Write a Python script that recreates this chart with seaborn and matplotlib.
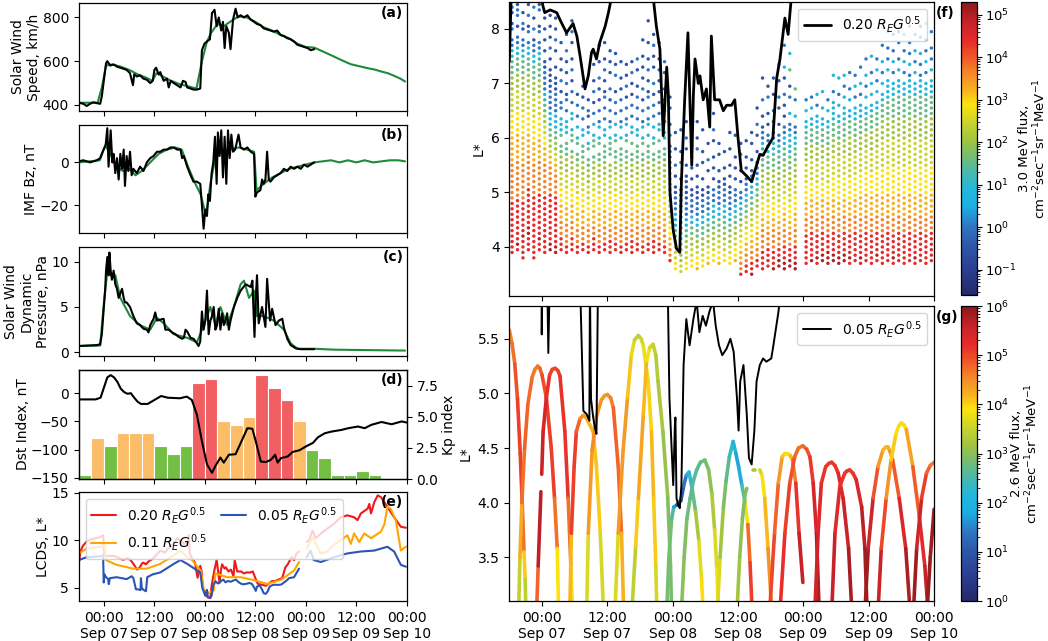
import numpy as np
import pandas as pd
import matplotlib
matplotlib.use("Agg")
import matplotlib.pyplot as plt
import matplotlib.dates as mdates
import matplotlib.cm as cm
from matplotlib.colors import LinearSegmentedColormap, LogNorm
from matplotlib.collections import LineCollection
import seaborn as sns

sns.set_style("ticks")
plt.rcParams.update({
    "font.family": ["DejaVu Sans"],
    "font.size": 10, "axes.labelsize": 10, "xtick.labelsize": 10,
    "ytick.labelsize": 10, "legend.fontsize": 10,
    "axes.edgecolor": "black", "axes.labelcolor": "black", "text.color": "black",
    "xtick.color": "black", "ytick.color": "black",
    "xtick.major.size": 3.5, "ytick.major.size": 3.5,
    "xtick.minor.size": 2, "ytick.minor.size": 2,
    "axes.linewidth": 0.9,
})

START = pd.Timestamp("2017-09-06 18:00")
END = pd.Timestamp("2017-09-10 00:00")

# ---------------- solar wind speed (km/h) ----------------
SPEED_OBS_H = [0, 1.1, 1.9, 2.7, 3.5, 4.3, 5.1, 5.5, 5.9, 6.5, 6.8, 7.5, 8.3, 9.1, 9.9, 10.7, 11.4, 12.2, 12.9, 13.2,
               13.8, 14.6, 15.4, 16.2, 17.0, 17.6, 18.0, 18.4, 19.0, 19.4, 20.2, 21.0, 21.4, 21.9, 22.6, 23.4, 24.2, 24.8, 25.4, 25.8,
               26.6, 27.3, 28.1, 28.9, 29.3, 29.9, 30.5, 31.2, 31.7, 32.3, 32.8, 33.3, 33.9, 34.3, 34.7, 35.1, 35.7, 36.1, 36.7, 37.3,
               37.8, 38.5, 39.3, 40.1, 40.9, 41.7, 42.4, 43.2, 44.0, 44.8, 45.6, 46.4, 47.2, 48.0, 48.8, 49.6, 50.4, 51.2, 52.0, 52.8,
               53.6, 54.4, 55.2, 56.0]
SPEED_OBS = [410, 405, 395, 405, 412, 408, 405, 440, 500, 590, 600, 580, 585, 575, 570, 565, 560, 545, 490, 540,
             530, 535, 520, 515, 500, 510, 560, 570, 540, 550, 510, 520, 480, 510, 500, 490, 480, 510, 505, 480,
             475, 470, 470, 475, 650, 680, 690, 700, 820, 835, 760, 800, 740, 780, 660, 760, 730, 655, 790, 840,
             800, 810, 800, 810, 790, 780, 770, 765, 750, 745, 740, 735, 740, 720, 715, 705, 700, 690, 675, 670,
             665, 660, 650, 655]
SPEED_MODEL_H = [0, 4.5, 5.5, 6.5, 8, 10, 12, 14, 16, 17.5, 18.5, 20, 22, 24, 26, 28, 29.3, 30.5, 31.5, 33,
                 34.5, 36, 38, 40, 42, 44, 46, 48, 50, 52, 54, 56, 58, 60.7, 62.7, 64.7, 66.7, 68.7, 70.3, 71.9,
                 73.5, 75.0, 76.5, 77.6]
SPEED_MODEL = [410, 410, 480, 580, 585, 575, 560, 540, 525, 510, 545, 530, 510, 495, 485, 475, 600, 690, 730, 770,
               760, 780, 805, 800, 780, 755, 740, 720, 705, 680, 665, 662, 645, 621, 603, 586, 577, 568, 562, 553,
               545, 533, 520, 507]

# ---------------- IMF Bz (nT) ----------------
BZ_OBS_H = [0, 1.1, 2.7, 4.3, 5.1, 5.7, 6.4, 6.8, 7.1, 7.6, 8.0, 8.3, 8.7, 9.1, 9.5, 9.9, 10.3, 10.7, 11.0, 11.4,
            11.8, 12.2, 12.6, 13.0, 13.8, 14.6, 15.4, 16.2, 17.0, 17.8, 18.6, 19.4, 20.2, 21.0, 21.8, 22.6, 23.4, 24.2, 24.6, 25.0,
            25.8, 26.6, 27.3, 28.1, 28.9, 29.3, 29.7, 30.1, 30.5, 30.8, 31.2, 31.6, 32.0, 32.4, 32.8, 33.1, 33.5, 33.9, 34.3, 34.7,
            35.1, 35.5, 35.9, 36.3, 36.7, 37.2, 38.0, 38.5, 39.3, 40.1, 40.9, 41.7, 42.0, 42.4, 43.2, 43.6, 44.0, 44.4, 44.8, 45.2,
            45.6, 46.4, 47.2, 48.0, 48.8, 49.6, 50.4, 51.2, 52.0, 52.8, 53.6, 54.4, 55.2, 56.0]
BZ_OBS = [0.5, 1, 0, 1, 2, 5, 8, 16, -2, 15, 0, 4, -5, 2, -8, 4, -3, 6, -11, 3,
          -4, 5, -6, -3, -5, -2, -4, 0, 2, 3, 5, 5, 6, 6, 7, 7, 6, 6, 2, 3,
          -2, -6, -9, -9, -10, -20, -31, -22, -25, -15, -18, -5, 0, 12, -10, 14, 3, 15, -7, 12,
          -10, 15, 2, 13, 5, 6, 13, 7, 6, 7, 5, 4, -16, -14, -13, -8, -10, -8, 5, -8,
          -9, -7, -6, -5, -3, -4, -2, -3, -2, -3, -1, -2, -1, 0]
BZ_MODEL_H = [0, 5, 6.3, 7.5, 9, 10.5, 12, 13.5, 15, 17, 19, 21, 23, 24.5, 26, 27.5, 29, 30.3, 31.3, 32.5,
              34, 36, 38, 40, 41.7, 42.3, 44, 46, 48, 50, 52, 54, 56, 58, 60, 62, 64, 66, 68, 70,
              72, 74, 76, 77.6]
BZ_MODEL = [0, 1, 8, 4, -2, -4, -3, -6, -4, 0, 4, 6, 7, 6, -2, -9, -15, -25, -10, 2,
            5, 6, 7, 6, 5, -13, -10, -7, -5, -3, -2, -1, 0, 0.5, 1, 0, 1, 0, 1, 0,
            0.5, 1, 1, 0.5]

# ---------------- dynamic pressure (nPa) ----------------
PDYN_OBS_H = [0, 1.9, 4.3, 5.1, 5.5, 5.9, 6.3, 6.5, 6.8, 7.1, 7.3, 7.6, 7.9, 8.3, 8.7, 9.1, 9.5, 9.9, 10.3, 10.7,
              11.0, 11.4, 12.2, 12.6, 13.0, 13.8, 14.6, 15.4, 16.2, 16.6, 17.0, 17.8, 18.2, 18.6, 19.4, 20.2, 20.6, 21.4, 22.2, 23.0,
              23.8, 24.6, 25.0, 25.4, 25.8, 26.6, 27.3, 28.1, 28.5, 28.9, 29.3, 29.7, 30.1, 30.5, 30.9, 31.3, 31.7, 32.1, 32.5, 32.9,
              33.3, 33.7, 34.1, 34.5, 34.9, 35.3, 35.7, 36.1, 36.9, 37.7, 38.5, 39.7, 40.9, 41.3, 41.8, 42.1, 42.4, 42.8, 43.6, 44.4,
              44.8, 45.5, 46.0, 46.8, 47.6, 48.4, 48.8, 49.6, 50.4, 51.6, 52.8, 54.4, 56.0]
PDYN_OBS = [0.7, 0.75, 0.8, 0.9, 2, 4.5, 7, 9, 10.5, 8.5, 11, 9, 8, 9, 7.5, 7, 6, 6.5, 7, 6,
            5.5, 5.5, 5, 4.5, 4, 3.2, 3, 2.6, 2.5, 2.2, 3, 3.7, 4.4, 3.5, 3.6, 3.7, 2.5, 2.5, 2.2, 2,
            1.7, 1.5, 1.6, 2.5, 2.3, 1.6, 1.5, 1.0, 0.7, 1.2, 4.5, 2.5, 3.5, 6.8, 2, 3.5, 4, 5, 2.5, 3,
            4.8, 2.5, 4.3, 3, 3.5, 4.3, 2.5, 3.5, 5.0, 6, 6.8, 7.5, 7.2, 7.9, 1.7, 6, 8.5, 3.2, 5.0, 2.8,
            8.1, 3.5, 4.8, 3.0, 3.5, 3.7, 2.7, 1.5, 0.8, 0.45, 0.35, 0.35, 0.35]
PDYN_MODEL_H = [0, 5.1, 5.9, 6.7, 8.7, 9.9, 12.2, 14.6, 17.0, 18.6, 20.2, 22.6, 25.8, 28.1, 28.9, 30.5, 31.3, 32.5, 33.7, 35.3,
                36.9, 38.5, 39.3, 40.5, 41.7, 42.4, 44.0, 46.4, 48.8, 50.4, 52.0, 56.0, 60.7, 68.7, 77.6]
PDYN_MODEL = [0.7, 0.75, 5, 8.5, 8.5, 6, 4, 3, 2.5, 3.8, 3.2, 2, 1.6, 1.1, 2, 4, 5, 3, 5, 3,
              5, 7.5, 7.9, 6, 6.8, 4, 4, 3.5, 2.5, 1, 0.4, 0.4, 0.3, 0.25, 0.2]

# ---------------- Dst (nT) and 3-hourly Kp ----------------
DST_H = [0, 4, 5.2, 6.0, 6.8, 7.6, 8.4, 9.2, 10.0, 10.8, 11.6, 12.4, 13.2, 14.0, 14.8, 16.4, 18.0, 19.6, 21.2, 24.1,
         25.7, 26.9, 28.1, 29.3, 30.5, 31.7, 32.5, 33.7, 34.5, 35.7, 37.3, 38.9, 40.1, 41.3, 42.1, 43.3, 44.5, 45.7, 46.7, 47.3,
         48.1, 49.7, 50.9, 52.5, 54.1, 55.7, 56.9, 58.5, 60.1, 62.5, 64.1, 66.4, 68.0, 69.6, 72.0, 74.4, 76.8, 78.0]
DST = [-11, -11, -8, 10, 28, 32, 28, 20, 8, 2, -1, 0, -8, -15, -19, -19, -12, -5, -8, -9,
       -6, -12, -38, -85, -126, -141, -129, -114, -123, -109, -108, -82, -62, -63, -85, -121, -122, -118, -109, -123,
       -115, -112, -104, -101, -94, -88, -78, -71, -68, -65, -62, -59, -62, -56, -51, -55, -50, -52]
KP_START_H = [0, 3, 6, 9, 12, 15, 18, 21, 24, 27, 30, 33, 36, 39, 42, 45, 48, 51, 54, 57, 60, 63, 66, 69]
KP = [0.33, 3.33, 2.67, 3.67, 3.67, 3.67, 2.67, 2.0, 2.67, 7.67, 8.0, 4.67,
      4.33, 5.0, 8.33, 7.33, 6.33, 4.67, 2.33, 1.67, 0.33, 0.33, 0.67, 0.33]

# ---------------- LCDS (L*) for three field-line curvature thresholds ----------------
LCDS20_H = [0.0, 0.4, 1.0, 2.0, 3.0, 4.0, 5.0, 5.8, 6.1, 6.5, 7.5, 8.7, 9.3, 10.5, 11.7, 12.4, 13.0, 13.9, 14.5, 15.1,
            15.4, 16.0, 16.6, 17.6, 18.2, 18.8, 19.5, 20.5, 21.5, 22.6, 23.4, 24.2, 25.0, 26.0, 26.2, 26.4, 27.0, 27.65, 28.26, 28.9,
            29.2, 29.5, 30.1, 30.7, 31.3, 31.6, 32.2, 32.8, 33.5, 33.8, 34.1, 34.7, 35.0, 35.6, 36.2, 36.8, 37.1, 37.7, 38.6, 39.3,
            39.9, 40.8, 41.4, 42.0, 42.6, 43.6, 44.5, 45.4, 46.0, 46.6, 47.5, 48.4, 49.1, 49.7, 50.6, 51.2, 51.8, 52.4, 53.2, 54.2,
            54.8, 55.6, 56.4, 57.6, 59.1, 60.7, 62.3, 63.9, 65.5, 66.3, 67.1, 68.7, 69.1, 69.5, 70.3, 71.1, 71.9, 73.4, 75.0, 76.6,
            77.8]
LCDS20 = [7.4, 8.8, 9.4, 9.9, 10.1, 10.2, 10.3, 10.5, 8.45, 8.3, 8.35, 8.3, 8.17, 7.93, 8.1, 7.87, 7.5, 6.9, 7.14, 7.57,
          7.63, 7.45, 7.75, 8.05, 8.3, 8.6, 8.9, 8.7, 9.2, 9.6, 10.2, 9.9, 9.6, 9.8, 10.5, 8.6, 8.05, 7.63, 6.04, 7.3,
          6.8, 5.0, 4.3, 3.97, 3.9, 5.2, 6.7, 7.93, 5.5, 6.8, 7.45, 7.0, 7.14, 6.7, 6.9, 6.2, 7.87, 6.7, 6.7, 6.5,
          6.6, 6.6, 6.7, 6.0, 5.4, 5.3, 5.2, 5.5, 5.7, 5.68, 5.85, 6.0, 7.1, 7.45, 8.2, 7.9, 8.6, 8.8, np.nan, 9.8,
          10.0, 11.0, 10.2, 10.7, 11.2, 11.7, 12.4, 12.6, 12.4, 12.1, 12.8, 13.3, 13.8, 12.8, 14.0, 14.7, 14.5, 13.5, 12.4, 11.4,
          11.3]
LCDS11_H = [0.0, 1.9, 5.1, 6.1, 6.5, 9.0, 13.0, 16.2, 19.4, 22.6, 24.2, 25.8, 27.0, 28.2, 29.0, 29.8, 30.6, 32.1, 32.5, 35.3,
            38.5, 41.6, 44.8, 48.0, 51.2, 52.4, 53.2, 54.2, 55.6, 56.4, 57.6, 59.1, 60.7, 62.3, 63.9, 64.7, 65.5, 66.7, 67.9, 69.5,
            71.9, 72.7, 73.4, 74.2, 75.4, 76.6, 77.8]
LCDS11 = [8.6, 9.1, 9.3, 9.5, 7.9, 7.4, 7.0, 7.0, 7.5, 8.4, 8.9, 8.2, 7.9, 7.2, 6.8, 4.7, 4.4, 4.7, 6.5, 6.1,
          6.1, 5.8, 5.4, 5.8, 6.8, 7.7, np.nan, 9.1, 10.3, 9.6, 8.6, 8.8, 9.5, 10.0, 10.5, 9.6, 10.7, 9.8, 10.7, 10.2,
          10.9, 11.7, 13.5, 13.3, 12.1, 8.9, 9.3]
LCDS05_H = [0.0, 1.9, 5.1, 5.8, 5.95, 6.1, 6.5, 7.0, 7.16, 7.4, 9.0, 11.4, 12.6, 13.0, 13.6, 14.2, 14.7, 14.8, 15.0, 15.4,
            15.7, 16.0, 16.3, 17.6, 19.4, 22.6, 24.2, 25.8, 28.2, 28.9, 29.4, 29.8, 30.1, 30.4, 30.5, 30.7, 31.0, 31.3, 31.6, 32.0,
            32.5, 33.1, 33.8, 34.4, 34.9, 35.5, 36.1, 36.7, 37.4, 37.9, 38.5, 39.1, 39.9, 40.6, 41.2, 41.8, 42.1, 42.4, 43.0, 43.6,
            44.0, 44.5, 45.0, 45.4, 46.0, 46.6, 47.2, 48.1, 48.4, 49.4, 50.0, 51.2, 52.4, 53.2, 54.2, 55.1, 55.9, 57.6, 60.7, 63.9,
            67.1, 70.3, 73.4, 75.0, 76.6, 77.8]
LCDS05 = [7.9, 8.2, 8.3, 8.4, 5.54, 6.4, 6.1, 5.9, 5.37, 6.0, 6.1, 5.9, 6.2, 6.0, 4.84, 4.81, 4.75, 6.0, 4.95, 4.78,
          4.69, 4.63, 6.1, 6.4, 6.6, 7.5, 7.9, 7.5, 6.8, 6.6, 4.96, 4.5, 4.16, 4.71, 4.78, 4.04, 3.98, 3.95, 4.16, 5.26,
          5.68, 5.44, 5.68, 5.85, 5.56, 5.71, 5.62, 5.74, 5.85, 5.62, 5.44, 5.35, 5.41, 5.5, 5.38, 4.96, 4.66, 5.11, 5.26, 4.81,
          4.41, 4.35, 4.66, 5.11, 5.26, 5.32, 5.29, 5.32, 5.41, 5.74, 6.0, 6.1, 7.0, np.nan, 8.2, 8.9, 7.9, 7.7, 8.2, 8.6,
          8.8, 8.9, 9.3, 8.8, 7.4, 7.2]

# ---------------- 3.0 MeV flux: hourly columns, L* rows (code per cell) ----------------
F_HOURS = [0.5, 1.5, 2.5, 3.5, 4.5, 5.5, 6.5, 7.5, 8.5, 9.5, 10.5, 11.5, 12.5, 13.5, 14.5, 15.5, 16.5, 17.5, 18.5, 19.5,
           20.5, 21.5, 22.5, 23.5, 24.5, 25.5, 26.5, 27.5, 28.5, 29.5, 30.5, 31.5, 32.5, 33.5, 34.5, 35.5, 36.5, 37.5, 38.5, 39.5,
           40.5, 41.5, 42.5, 43.5, 44.5, 45.5, 46.5, 47.5, 48.5, 49.5, 50.5, 51.5, 52.5, 53.5, 54.5, 55.5, 56.5, 57.5, 58.5, 59.5,
           60.5, 61.5, 62.5, 63.5, 64.5, 65.5, 66.5, 67.5, 68.5, 69.5, 70.5, 71.5, 72.5, 73.5, 74.5, 75.5, 76.5, 77.5]
# L* sample levels; alternate hours were sampled on the interleaved set
F_LSTAR_EVEN = [3.5, 3.6, 3.7, 3.8, 3.9, 4.0, 4.1, 4.2, 4.3, 4.4, 4.5, 4.6, 4.7, 4.8, 4.9, 5.0, 5.1, 5.2, 5.3, 5.4,
                5.5, 5.6, 5.7, 5.8, 5.9, 6.0, 6.1, 6.2, 6.3, 6.4, 6.5, 6.6, 6.7, 6.8, 6.9, 7.0, 7.1, 7.2, 7.3, 7.4,
                7.5, 7.6, 7.7, 7.8, 7.9, 8.0, 8.1, 8.2, 8.3, 8.4]
F_LSTAR_ODD = [3.55, 3.65, 3.75, 3.85, 3.95, 4.05, 4.15, 4.25, 4.35, 4.45, 4.55, 4.65, 4.75, 4.85, 4.95, 5.05, 5.15,
               5.25, 5.35, 5.45, 5.55, 5.65, 5.75, 5.85, 5.95, 6.05, 6.15, 6.25, 6.35, 6.45, 6.55, 6.65, 6.75, 6.85,
               6.95, 7.05, 7.15, 7.25, 7.35, 7.45, 7.55, 7.65, 7.75, 7.85, 7.95, 8.05, 8.15, 8.25, 8.35, 8.45]
# log10 flux for each cell code ('.' = no sample)
F_CODE_LOG10 = {"0": -1.0, "1": -0.5, "2": 0.0, "3": 0.9, "4": 1.55, "5": 2.05, "6": 2.45,
                "7": 2.9, "8": 3.25, "9": 3.65, "A": 4.4, "B": 5.0}
F_COLUMNS = [
    "....AAAAAAAAAA999999988888777766665554443322.21.12",
    "....ABAAAAAAAA999999988888777766665554443322.1.221",
    "...AAAABAAAAAA999999988888777766665554443322.12.1.",
    "....AAABBAAAAAAA999999888877776666555444332.21.2.1",
    "...AAAAAAAAAAAA99999988887777666655544433221.2.1.2",
    "....AABAAAAAAAA9999998888777766665554443322.21..21",
    "....AAAAAAAAAAA9999998887766554433222211.1.1.1.1..",
    "....BBAAAAAAAAA99999886554433322221111.1.2.1.1.1..",
    "....BBAAAAAAAAA9999886655443332222111.1..1.2.1.1..",
    "....AAA99988877766655544.4333.22.1.2.1.1..1",
    "....AA9999888777666555444.333.2.21.2.1.1.2..1",
    "....AAA9998887776665554.443.33.2.2.1.2.1..1.2.1",
    "....AA99988877766655544.43.3.2.2.1",
    "....AA999888777666555444.33.2.2.1.1",
    "....AA9998877766655544.43.32.12.1",
    "....AAA998887776665554.443.3.2.1.2.1..1",
    "....AA99988877766655544.43.32.2.1.1.2..1..1",
    "....AA999888777666555444.33.2.2.21.1.2.1..1",
    "....AAA99888777666555.4443.32.2.1.2..1.1.1",
    "....AA99988877766655544.43.3.2.2.1..2.1.1",
    "....AA999888777666555444.3.32.2.2.1.1..1",
    "....AA99988877766655544.43.32.2.1.2.1.1",
    "....AAA9988877766655544.4.33.2.2.1.1.2.1",
    "....AA999888777666555444.33.2.2.2.1..1.2",
    "....AA99988877766655544.43.32.2.1.2.1.1.1..1",
    "....AA999888777666555444.3.32.2.21.1.2.1..1...1",
    "....AAA9988877766655544.43.3.2.2.1.2..1.1.2.1",
    "....AA99988877766655544.4.33.2.2.1.1.2.1..1",
    "....AA999888777666555444.33.2.2.2.1..1.2",
    "..A998877665544433322211.2.1..1.1",
    ".7766554433322211.1.2..1..1",
    "6655443322221111.1..2.1...1",
    ".776655443322211111.1..1.2..1",
    ".776655443322211.1.1.2.1..1..1",
    ".8776554433222111.1.1..2.1..1",
    ".776655443322211.1..1.1...1",
    "..877655443322211..1.2..1",
    "..77665544333222.1.1.1..1.2..1",
    "..8776655443322211.1..1.1",
    "..7766554433322211.1..1",
    "..776655443322211.1.1..1..1",
    "..87766554433222.1.1.1...1",
    "A998877665443322.1.1..2.1",
    "AA9988776654433221.1.1..1",
    "BAA99887766554433221.1..1.1",
    ".AA998887766554433221.1..1.2..1",
    ".AAAA99998877766655544433221.1..2...1",
    ".AAAA999887776665554443322.1.1..2.1",
    ".BAAA9999887776665554443322.1.2..1..1",
    ".BBAA999887776665554443322.1..1.2..1..2",
    ".BBAAA9998887776665554443322.1.1.2..1.3...2",
    ".BBAA99988777666555444333322.3..2.1..4..3",
    ".BBAAA9998887776665554443322.3..2.4",
    "",
    "..AAAAAA999888777666655544433.3.2",
    "..BAAAAA999888777666655544433.3.2",
    "..ABAAAA9998887776666555444333.2.3",
    "..BBAAAA999888777666655544433.3..3",
    "..BBBAAA999888777666655544433.3.2",
    "..BBAAAA999888777766665554443333.2..3",
    "..BBAAAA9998887777666655544433.3.2..3",
    "..BBAAAA99988877776666555444333.3.2.3",
    "..ABAAAA99988877776666555544433.3.2..2",
    "..AAAAAA99988877776666555444333.2.3.2",
    "..ABAAAA999888877776666555444333.2.3..2",
    "..AAAAAA99988887777666655544433.3.2.3..2",
    "..AAAAAA999888877776666555544433.3.3.2..3",
    "..ABAAAA999888877776666555544433.3.2.3.2",
    "..AAAAAA99988887777766666555544433.3.2.3..2",
    "..AAAAAA9998888777776666655554443333.3.2.2..3",
    "..ABAAAA9998888777776666655554444333.2.3.2..2",
    "..AAAAAA9998888777776666655554444333.3.2..2.2",
    "..AAAAAA9998888777776666655554444333.2.3.2..3",
    "..AAAAAA99988887777766666555544443332.3.2.2..2",
    "..ABAAAA9998888777776666655554444333.3.2.3..2",
    "..AAAAAA99988887777766666555544443332.2.3..2.1",
    "..AAAAAA9998888777776666655554444333.2.3.2.2..3",
    "..AAAAAA9998888777776666655554444333.3.2.2..2",
]

# ---------------- 2.6 MeV flux along individual orbit passes ----------------
ARC_HOURS = [
    [0.0, 0.5, 1.0, 1.5, 2.0, 2.4, 2.7, 2.9, 3.05],
    [1.7, 1.95, 2.3, 2.8, 3.4, 4.2, 4.7, 5.2, 5.6, 6.0, 6.8, 7.7, 8.3, 8.8, 9.05],
    [5.0, 5.3, 5.8, 5.9, 5.95, 6.2, 6.8, 7.4, 7.9, 8.4, 8.9, 9.3, 10.2, 10.8, 11.3, 11.6],
    [11.1, 11.4, 11.9, 12.3, 13.0, 13.6, 14.1, 14.5, 15.4, 16.0, 16.7, 17.3],
    [14.2, 14.5, 15.2, 16.0, 16.9, 17.5, 18.0, 18.6, 19.1, 20.0, 20.6, 21.0],
    [19.4, 20.0, 20.9, 21.7, 22.4, 23.0, 23.7, 24.2, 24.6, 25.5, 26.1, 26.5, 26.9, 27.1],
    [22.5, 23.2, 23.7, 24.6, 25.2, 25.8, 26.4, 26.9, 27.3, 28.2, 29.1, 29.6, 29.8],
    [28.9, 29.3, 29.8, 30.2, 30.8, 31.5, 32.0, 32.5, 33.0, 33.6, 34.2, 34.8, 35.3, 35.6],
    [31.6, 32.1, 32.6, 33.2, 33.8, 34.4, 35.1, 35.9, 36.6, 37.2, 37.7, 38.1, 38.4],
    [38.2, 38.7, 39.3, 39.8, 40.4, 41.1, 41.6, 42.1, 42.7, 43.3, 43.8, 44.2, 44.6],
    [41.8, 42.3, 42.8, 43.3, 43.6, 44.2, 44.8, 45.1, 45.5, 46.0, 46.4, 46.9, 47.5, 48.2],
    [47.8, 48.7, 49.4, 50.1, 50.6, 51.1, 51.6, 52.0, 52.6, 53.2, 53.9],
    [49.7, 50.6, 51.5, 52.4, 53.1, 53.9, 54.6, 55.2, 55.8, 56.4, 56.9],
    [56.1, 56.7, 57.3, 58.1, 58.7, 59.2, 59.8, 60.4, 61.3, 62.3, 62.9],
    [59.2, 59.8, 60.7, 61.6, 62.0, 62.5, 63.1, 63.7, 64.7, 65.3, 65.7],
    [65.3, 65.9, 66.8, 67.7, 68.6, 69.1, 69.5, 69.9, 70.4, 71.6, 72.8, 73.6],
    [67.7, 68.3, 69.2, 70.1, 71.0, 71.5, 72.0, 72.5, 72.9, 74.1, 75.3, 76.3, 76.9],
    [74.2, 74.8, 75.7, 76.6, 77.3, 78.0],
    [76.7, 77.3, 78.0],
]
ARC_LSTAR = [
    [5.58, 5.46, 5.27, 4.95, 4.45, 3.95, 3.55, 3.3, 3.0],
    [3.0, 3.5, 4.0, 4.5, 4.9, 5.15, 5.22, 5.25, 5.23, 5.17, 4.96, 4.5, 4.04, 3.58, 3.0],
    [3.0, 3.42, 4.1, None, 4.26, 4.65, 4.96, 5.17, 5.22, 5.23, 5.21, 5.16, 4.65, 4.04, 3.42, 3.0],
    [3.0, 3.72, 4.33, 4.65, 4.77, 4.80, 4.78, 4.74, 4.65, 4.33, 3.72, 3.0],
    [3.0, 3.72, 4.48, 4.79, 4.94, 4.98, 4.99, 4.96, 4.87, 4.33, 3.72, 3.0],
    [3.0, 3.72, 4.48, 4.96, 5.35, 5.49, 5.53, 5.5, 5.44, 5.11, 4.65, 4.04, 3.42, 3.0],
    [3.0, 3.6, 4.04, 4.8, 5.3, 5.42, 5.45, 5.35, 5.11, 4.65, 4.04, 3.42, 3.0],
    [3.0, 3.5, 3.85, 3.96, 3.98, 4.02, 4.15, 4.25, 4.28, 4.12, 3.92, 3.65, 3.3, 3.0],
    [3.0, 3.5, 3.85, 4.04, 4.2, 4.3, 4.37, 4.39, 4.3, 4.08, 3.75, 3.4, 3.0],
    [3.0, 3.5, 3.95, 4.2, 4.42, 4.56, 4.45, 4.33, 4.16, 4.0, 3.8, 3.45, 3.0],
    [3.0, 3.5, 3.85, 4.08, 4.13, None, 4.3, 4.3, None, 4.3, 4.25, 4.04, 3.58, 3.0],
    [3.0, 3.72, 4.18, 4.42, 4.45, 4.45, 4.43, 4.39, 4.18, 3.72, 3.27],
    [3.0, 3.72, 4.18, 4.42, 4.5, 4.52, 4.49, 4.42, 4.18, 3.72, 3.0],
    [3.0, 3.72, 4.18, 4.33, 4.36, 4.37, 4.34, 4.27, 4.04, 3.58, 3.0],
    [3.0, 3.72, 4.15, 4.27, 4.29, 4.30, 4.27, 4.21, 3.96, 3.58, 3.0],
    [3.0, 3.58, 4.04, 4.33, 4.48, 4.51, 4.51, 4.47, 4.39, 4.04, 3.58, 3.0],
    [3.0, 3.58, 4.04, 4.39, 4.63, 4.7, 4.73, 4.71, 4.67, 4.33, 3.87, 3.42, 3.0],
    [3.0, 3.58, 4.04, 4.27, 4.34, 4.37],
    [3.0, 3.5, 3.94],
]
ARC_LOG10_FLUX = [
    [4.5, 4.6, 4.8, 5.0, 5.1, 5.0, 4.4, 3.7, 3.1],
    [3.0, 3.9, 4.6, 4.8, 4.8, 4.7, 4.6, 4.6, 4.7, 4.9, 5.0, 5.1, 5.0, 4.4, 3.4],
    [4.0, 5.6, 5.7, None, 5.6, 5.5, 5.3, 5.1, 5.0, 5.0, 5.0, 5.1, 5.2, 5.1, 4.3, 3.3],
    [3.3, 5.0, 5.1, 5.0, 4.6, 4.4, 4.3, 4.2, 4.1, 4.1, 4.0, 3.2],
    [3.0, 4.3, 4.5, 4.5, 4.4, 4.4, 4.4, 4.5, 4.7, 4.9, 4.6, 3.8],
    [3.0, 4.3, 4.5, 4.3, 3.9, 3.5, 3.4, 3.5, 3.6, 3.9, 4.1, 4.2, 3.9, 3.3],
    [3.0, 3.8, 4.3, 4.3, 4.0, 3.6, 3.5, 3.4, 3.3, 3.2, 3.0, 2.9, 2.8],
    [2.8, 2.9, 2.8, 2.4, 1.0, 0.8, 1.2, 1.6, 2.0, 2.5, 3.0, 3.5, 3.9, 4.0],
    [3.0, 3.0, 2.9, 2.7, 2.6, 2.6, 2.7, 2.8, 2.9, 3.1, 3.5, 3.8, 3.9],
    [3.9, 3.4, 3.0, 2.8, 2.5, 2.2, 1.9, 1.6, 2.0, 3.2, 4.5, 5.0, 5.1],
    [3.3, 3.1, 3.0, 2.9, 2.9, None, 3.2, 3.2, None, 3.5, 3.7, 4.0, 4.3, 4.6],
    [5.0, 5.0, 4.6, 4.2, 4.0, 3.9, 4.0, 4.3, 4.9, 5.4, 5.8],
    [5.3, 5.1, 5.0, 4.8, 4.7, 4.7, 4.8, 5.0, 5.2, 5.6, 5.9],
    [5.6, 5.4, 5.2, 5.1, 5.1, 5.1, 5.1, 5.2, 5.4, 5.7, 5.9],
    [5.8, 5.4, 5.2, 5.1, 5.1, 5.1, 5.1, 5.2, 5.5, 5.8, 5.9],
    [5.9, 5.8, 5.2, 4.6, 4.2, 4.1, 4.1, 4.3, 4.6, 5.1, 5.6, 5.9],
    [5.8, 5.3, 4.7, 4.2, 3.9, 3.8, 3.8, 3.9, 4.0, 4.6, 5.1, 5.4, 5.8],
    [5.9, 5.8, 5.2, 4.9, 4.7, 4.6],
    [5.9, 5.9, 5.8],
]

# colour-bar decades
CB_F_TICKS = [1e-1, 1e0, 1e1, 1e2, 1e3, 1e4, 1e5]
CB_G_TICKS = [1e0, 1e1, 1e2, 1e3, 1e4, 1e5, 1e6]

# ---------------- styling ----------------
FLUX_CMAP = LinearSegmentedColormap.from_list("flux", [
    (0.00, "#222a6a"), (0.09, "#2b3f93"), (0.17, "#2e58aa"), (0.23, "#2f74c0"),
    (0.30, "#1eaee3"), (0.36, "#22b8dc"), (0.42, "#4cb8ac"), (0.48, "#7bbd6a"),
    (0.53, "#a2c441"), (0.59, "#cbd52b"), (0.65, "#fde40d"), (0.70, "#f7b21f"),
    (0.76, "#f3872a"), (0.81, "#f05a28"), (0.87, "#e82a2a"), (0.93, "#c8232a"),
    (1.00, "#8b1a1a")])
GREEN = "#1d8a3c"
KP_COLORS = {"quiet": "#72bf44", "active": "#fbbd68", "storm": "#f25f62"}
RED, ORANGE, BLUE = "#f01818", "#ffa500", "#2b55b5"
LEG = r"$R_EG^{0.5}$"


def when(hours):
    return START + pd.to_timedelta(np.asarray(hours, dtype=float), unit="h")


def time_axis(ax, labels):
    ax.set_xlim(START, END)
    ax.xaxis.set_major_locator(mdates.HourLocator(byhour=[0, 12]))
    ax.xaxis.set_major_formatter(mdates.DateFormatter("%H:%M\n%b %d"))
    ax.set_xlabel("")
    ax.tick_params(labelbottom=labels)


def tag(ax, text, x=0.99, y=0.975, ha="right"):
    ax.text(x, y, text, transform=ax.transAxes, ha=ha, va="top", fontweight="bold", fontsize=10)


fig = plt.figure(figsize=(10.48, 6.41), dpi=100)
LX, LW = 0.0751, 0.313
ax_a = fig.add_axes([LX, 0.8268, LW, 0.1685])
ax_b = fig.add_axes([LX, 0.6365, LW, 0.1685])
ax_c = fig.add_axes([LX, 0.4446, LW, 0.1700])
ax_d = fig.add_axes([LX, 0.2527, LW, 0.1700])
ax_e = fig.add_axes([LX, 0.0624, LW, 0.1700])
ax_f = fig.add_axes([0.486, 0.5382, 0.4053, 0.4591])
ax_g = fig.add_axes([0.486, 0.0624, 0.4053, 0.4602])
cax_f = fig.add_axes([0.917, 0.5398, 0.0153, 0.4570])
cax_g = fig.add_axes([0.917, 0.0624, 0.0153, 0.4602])

# (a) solar wind speed
sns.lineplot(x=when(SPEED_MODEL_H), y=SPEED_MODEL, ax=ax_a, color=GREEN, lw=1.5)
sns.lineplot(x=when(SPEED_OBS_H), y=SPEED_OBS, ax=ax_a, color="black", lw=1.5)
ax_a.set_ylim(372, 866)
ax_a.set_yticks([400, 600, 800])
ax_a.set_ylabel("Solar Wind\nSpeed, km/h", labelpad=1)
tag(ax_a, "(a)")

# (b) IMF Bz
sns.lineplot(x=when(BZ_MODEL_H), y=BZ_MODEL, ax=ax_b, color=GREEN, lw=1.5)
sns.lineplot(x=when(BZ_OBS_H), y=BZ_OBS, ax=ax_b, color="black", lw=1.5)
ax_b.set_ylim(-33, 17.5)
ax_b.set_yticks([-20, 0])
ax_b.set_ylabel("IMF Bz, nT", labelpad=1)
tag(ax_b, "(b)")

# (c) dynamic pressure
sns.lineplot(x=when(PDYN_MODEL_H), y=PDYN_MODEL, ax=ax_c, color=GREEN, lw=1.5)
sns.lineplot(x=when(PDYN_OBS_H), y=PDYN_OBS, ax=ax_c, color="black", lw=1.5)
ax_c.set_ylim(-0.4, 11.6)
ax_c.set_yticks([0, 5, 10])
ax_c.set_ylabel("Solar Wind\nDynamic\nPressure, nPa", labelpad=1)
tag(ax_c, "(c)")

# (d) Dst with Kp bars
sns.lineplot(x=when(DST_H), y=DST, ax=ax_d, color="black", lw=1.5)
ax_kp = ax_d.twinx()
kp_col = [KP_COLORS["storm"] if k > 5 else KP_COLORS["active"] if k >= 3 else KP_COLORS["quiet"] for k in KP]
ax_kp.bar(mdates.date2num(when(KP_START_H)), KP, width=3 / 24, align="edge",
          color=kp_col, edgecolor="white", linewidth=0.8)
ax_kp.set_ylim(0, 8.75)
ax_kp.set_yticks([0, 2.5, 5.0, 7.5])
ax_kp.set_ylabel("Kp index", labelpad=3)
ax_d.set_zorder(ax_kp.get_zorder() + 1)
ax_d.patch.set_visible(False)
ax_d.set_ylim(-152, 41)
ax_d.set_yticks([-150, -100, -50, 0])
ax_d.set_ylabel("Dst Index, nT", labelpad=1)
tag(ax_d, "(d)")

# (e) LCDS
ax_e.plot(when(LCDS20_H), LCDS20, color=RED, lw=1.5, label="0.20 " + LEG)
ax_e.plot(when(LCDS11_H), LCDS11, color=ORANGE, lw=1.5, label="0.11 " + LEG)
ax_e.plot(when(LCDS05_H), LCDS05, color=BLUE, lw=1.5, label="0.05 " + LEG)
ax_e.set_ylim(3.6, 15.05)
ax_e.set_yticks([5, 10, 15])
ax_e.set_ylabel("LCDS, L*", labelpad=1)
ax_e.legend(loc="upper left", ncol=2, handlelength=1.8, columnspacing=1.0)
tag(ax_e, "(e)")

# (f) 3.0 MeV flux scatter
rows = []
for j, (hour, col) in enumerate(zip(F_HOURS, F_COLUMNS)):
    levels = F_LSTAR_EVEN if j % 2 == 0 else F_LSTAR_ODD
    for lstar, code in zip(levels, col):
        if code in F_CODE_LOG10:
            rows.append((hour, lstar, 10 ** F_CODE_LOG10[code]))
flux_f = pd.DataFrame(rows, columns=["hour", "lstar", "flux"])
flux_f["time"] = when(flux_f["hour"])
norm_f = LogNorm(10 ** -1.6, 10 ** 5.3)
sns.scatterplot(data=flux_f, x="time", y="lstar", hue="flux", hue_norm=norm_f, palette=FLUX_CMAP,
                s=6, linewidth=0, legend=False, ax=ax_f, zorder=1)
ax_f.plot(when(LCDS20_H), LCDS20, color="black", lw=2.0, label="0.20 " + LEG, zorder=3)
ax_f.set_ylim(3.1, 8.5)
ax_f.set_yticks([4, 5, 6, 7, 8])
ax_f.set_ylabel("L*")
ax_f.legend(loc="upper right", handlelength=2.0)
tag(ax_f, "(f)", x=1.004, y=0.985, ha="left")

# (g) 2.6 MeV flux along orbit passes
norm_g = LogNorm(1, 1e6)
ax_g.plot(when(LCDS05_H), LCDS05, color="black", lw=1.4, label="0.05 " + LEG, zorder=3)
for hrs, ls, lf in zip(ARC_HOURS, ARC_LSTAR, ARC_LOG10_FLUX):
    x = mdates.date2num(when(hrs))
    y = np.array([np.nan if v is None else v for v in ls], dtype=float)
    f = np.array([np.nan if v is None else v for v in lf], dtype=float)
    segs, cols = [], []
    for k in range(len(x) - 1):
        if np.isnan(y[k]) or np.isnan(y[k + 1]):
            continue
        segs.append([(x[k], y[k]), (x[k + 1], y[k + 1])])
        cols.append(FLUX_CMAP(norm_g(10 ** ((f[k] + f[k + 1]) / 2))))
    ax_g.add_collection(LineCollection(segs, colors=cols, linewidths=2.6, capstyle="round", zorder=2))
ax_g.set_ylim(3.1, 5.8)
ax_g.set_yticks([3.5, 4.0, 4.5, 5.0, 5.5])
ax_g.set_ylabel("L*")
ax_g.legend(loc="upper right", handlelength=2.0)
tag(ax_g, "(g)", x=1.004, y=0.985, ha="left")

for ax in [ax_a, ax_b, ax_c, ax_d, ax_f]:
    time_axis(ax, False)
for ax in [ax_e, ax_g]:
    time_axis(ax, True)

# colour bars
cb_f = fig.colorbar(cm.ScalarMappable(norm=norm_f, cmap=FLUX_CMAP), cax=cax_f)
cb_g = fig.colorbar(cm.ScalarMappable(norm=norm_g, cmap=FLUX_CMAP), cax=cax_g)
for cb, energy, ticks in [(cb_f, "3.0", CB_F_TICKS), (cb_g, "2.6", CB_G_TICKS)]:
    cb.set_ticks(ticks)
    cb.ax.tick_params(labelsize=9.5, pad=2)
    cb.set_label(energy + " MeV flux,\ncm$^{-2}$sec$^{-1}$sr$^{-1}$MeV$^{-1}$",
                 fontsize=9.5, labelpad=1, linespacing=1.05)

fig.savefig("out.png", dpi=100)
